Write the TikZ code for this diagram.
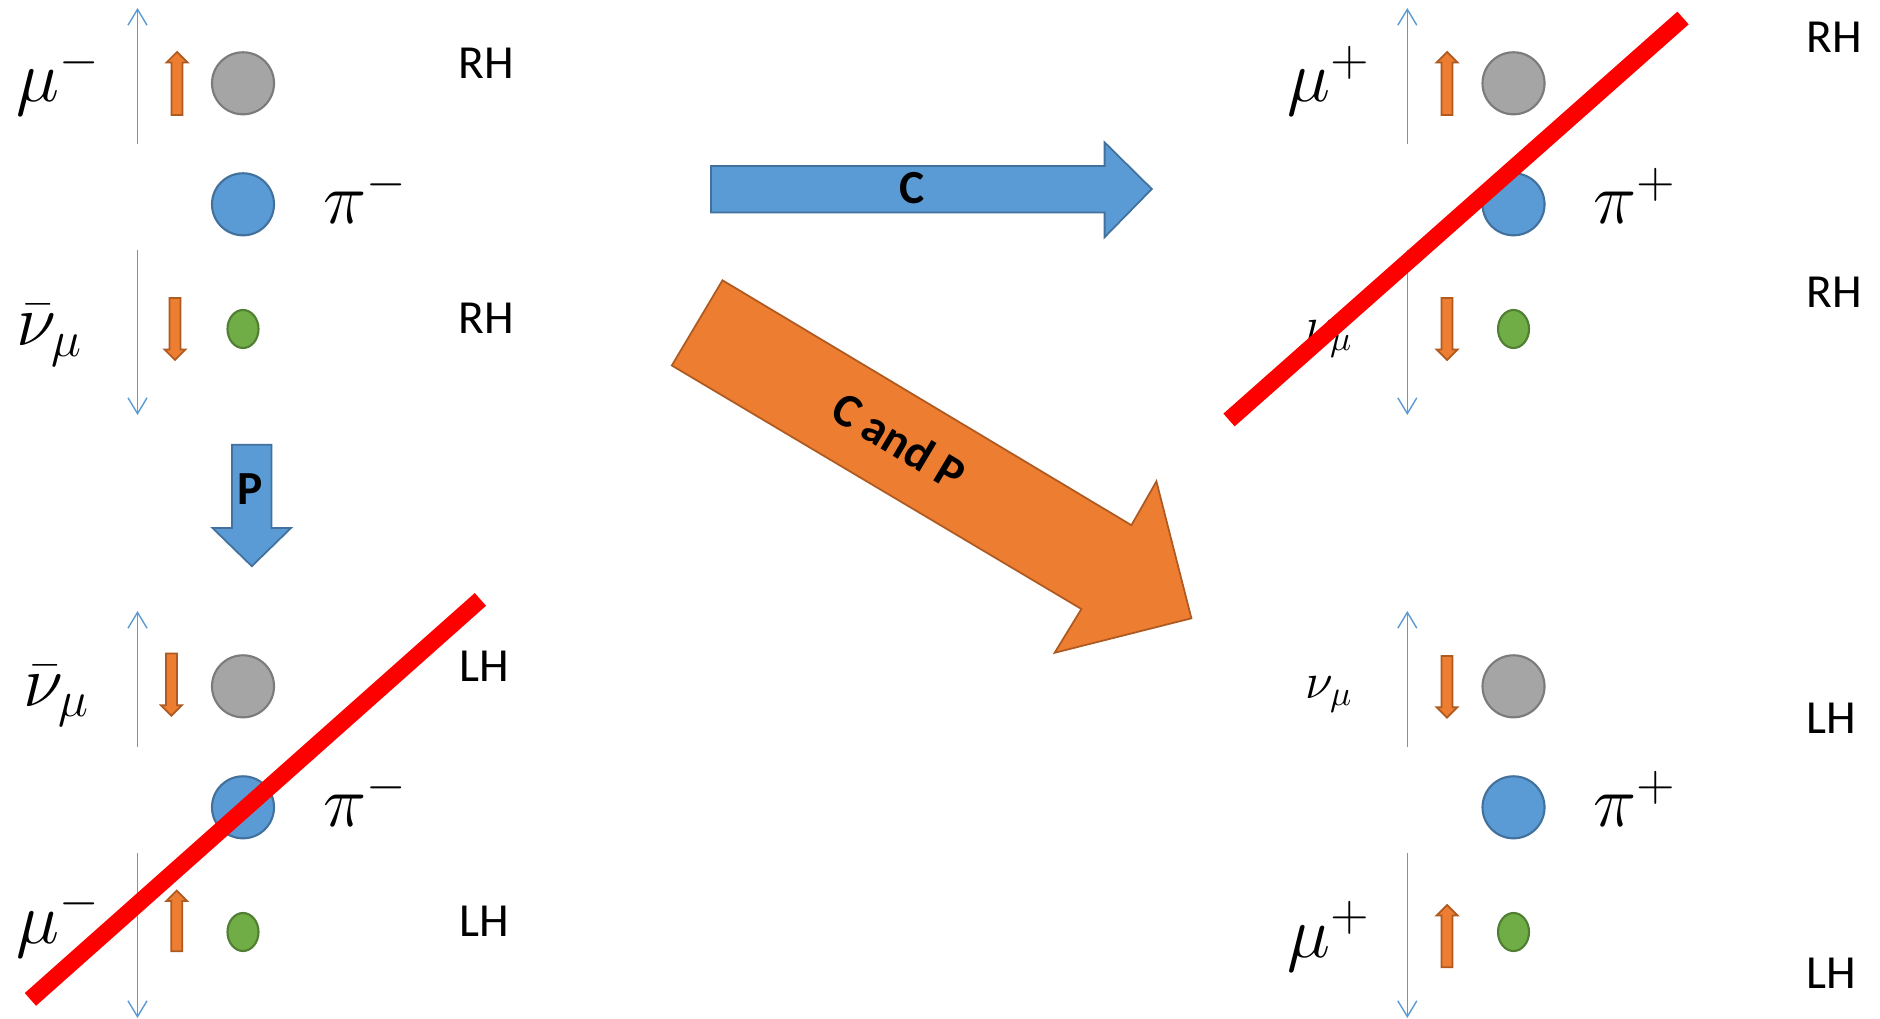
\documentclass[tikz,border=0pt]{standalone}
\usepackage{fontspec}
\setmainfont{Carlito}
\usepackage{tikz}
\usetikzlibrary{arrows.meta,shapes.geometric}

\definecolor{pblue}{HTML}{5B9BD5}
\definecolor{pbluedk}{HTML}{41719C}
\definecolor{porange}{HTML}{ED7D31}
\definecolor{porangedk}{HTML}{AE5A21}
\definecolor{pgray}{HTML}{A5A5A5}
\definecolor{pgraydk}{HTML}{7B7B7B}
\definecolor{pgreen}{HTML}{70AD47}
\definecolor{pgreendk}{HTML}{507E32}

\begin{document}
\begin{tikzpicture}[x=0.01cm, y=-0.01cm,
    hand/.style={font=\fontsize{13.5}{16}\selectfont, inner sep=0pt},
    bold/.style={font=\fontsize{13.5}{16}\selectfont\bfseries, inner sep=0pt},
    big/.style={font=\fontsize{20}{24}\selectfont, inner sep=0pt, anchor=base west},
    small/.style={font=\fontsize{14}{17}\selectfont, inner sep=0pt, anchor=base west},
    grayball/.style={circle, draw=pgraydk, fill=pgray, line width=0.6pt, minimum size=0.62cm, inner sep=0pt},
    blueball/.style={circle, draw=pbluedk, fill=pblue, line width=0.6pt, minimum size=0.62cm, inner sep=0pt},
    greenball/.style={ellipse, draw=pgreendk, fill=pgreen, line width=0.6pt, minimum width=0.31cm, minimum height=0.38cm, inner sep=0pt},
    axis/.style={draw=pblue, line width=0.4pt, -{Straight Barb[length=4.5pt,width=5.4pt]}},
    spin/.style={draw=porangedk, fill=porange, line width=0.5pt},
    bigblue/.style={draw=pbluedk, fill=pblue, line width=0.5pt},
    bigorange/.style={draw=porangedk, fill=porange, line width=0.5pt},
    veto/.style={draw=red, line width=0.17cm}]
    \path[fill=white, use as bounding box] (0,0) rectangle (1880,1019);

    % Axes
    \foreach \x/\n in {137.5/l,1407.3/r}
        \foreach \d/\m in {0/t,603/b} {
            \coordinate (ax\n\m1) at (\x,144+\d);
            \coordinate (ax\n\m2) at (\x,8+\d);
            \coordinate (ax\n\m3) at (\x,250+\d);
            \coordinate (ax\n\m4) at (\x,415+\d);
            \draw[axis] (ax\n\m1) -- (ax\n\m2);
            \draw[axis] (ax\n\m3) -- (ax\n\m4);
        }

    % Spins
    \foreach \x/\ya/\yb/\h in {177/115/52/-10.5, 175/298/360/10.5,
                               1447/115/52/-10.5, 1447/298/360/10.5,
                               171.4/653.6/715.8/10.5, 176.8/951.3/890.6/-10.5,
                               1447/656/717.7/10.5, 1447/967.3/905/-10.5}
        \draw[spin] ({\x-5.5},\ya) -- ({\x-5.5},{\yb-(\h)}) -- ({\x-10.5},{\yb-(\h)})
            -- (\x,\yb) -- ({\x+10.5},{\yb-(\h)}) -- ({\x+5.5},{\yb-(\h)}) -- ({\x+5.5},\ya) -- cycle;

    % Particles
    \foreach \p/\x/\d in {tl/243/0, tr/1513.5/0, bl/243/603, br/1513.5/603} {
        \node[grayball] (\p mu) at (\x,83.3+\d) {};
        \node[blueball] (\p pi) at (\x,204.3+\d) {};
        \node[greenball] (\p nu) at (\x,329+\d) {};
    }

    % Labels
    \node[big] (tlmuL) at (16,102) {$\mu^{-}$};
    \node[big] (tlpiL) at (323,224) {$\pi^{-}$};
    \node[big] (tlnuL) at (16,346) {$\bar{\nu}_{\mu}$};
    \node[hand] (tlh1) at (486,63) {RH};
    \node[hand] (tlh2) at (486,318) {RH};

    \node[big] (trmuL) at (1287,102) {$\mu^{+}$};
    \node[big] (trpiL) at (1593,224) {$\pi^{+}$};
    \node[small] (trnuL) at (1305,343) {$\nu_{\mu}$};
    \node[hand] (trh1) at (1834,37) {RH};
    \node[hand] (trh2) at (1834,292) {RH};

    \node[big] (blnuL) at (23,706) {$\bar{\nu}_{\mu}$};
    \node[big] (blpiL) at (323,826.5) {$\pi^{-}$};
    \node[big] (blmuL) at (16,943) {$\mu^{-}$};
    \node[hand] (blh1) at (484,666) {LH};
    \node[hand] (blh2) at (484,921) {LH};

    \node[small] (brnuL) at (1305,698) {$\nu_{\mu}$};
    \node[big] (brpiL) at (1593,826.7) {$\pi^{+}$};
    \node[big] (brmuL) at (1287,957) {$\mu^{+}$};
    \node[hand] (brh1) at (1831,718) {LH};
    \node[hand] (brh2) at (1831,973) {LH};

    % Transformations
    \draw[bigblue] (711,165.9) -- (1104.6,165.9) -- (1104.6,142.4) -- (1151.8,189)
        -- (1104.6,237.2) -- (1104.6,212.4) -- (711,212.4) -- cycle;
    \node[bold] (cL) at (911.8,188) {C};
    \draw[bigblue] (232,444.8) -- (271.4,444.8) -- (271.4,528) -- (291,528)
        -- (251.8,566.2) -- (212.5,528) -- (232,528) -- cycle;
    \node[bold] (pL) at (250,488.7) {P};
    \draw[bigorange] (722.5,280.3) -- (1131.4,525.2) -- (1156.4,481.4) -- (1191.4,618.3)
        -- (1054.6,652.8) -- (1081.4,609) -- (671.8,365.5) -- cycle;
    \node[bold, rotate=-30.9] (cpL) at (899.3,440.7) {C and P};

    % Forbidden
    \draw[veto] (1683,18) -- (1229,420);
    \draw[veto] (480.4,599.4) -- (30.4,999.4);
\end{tikzpicture}
\end{document}
